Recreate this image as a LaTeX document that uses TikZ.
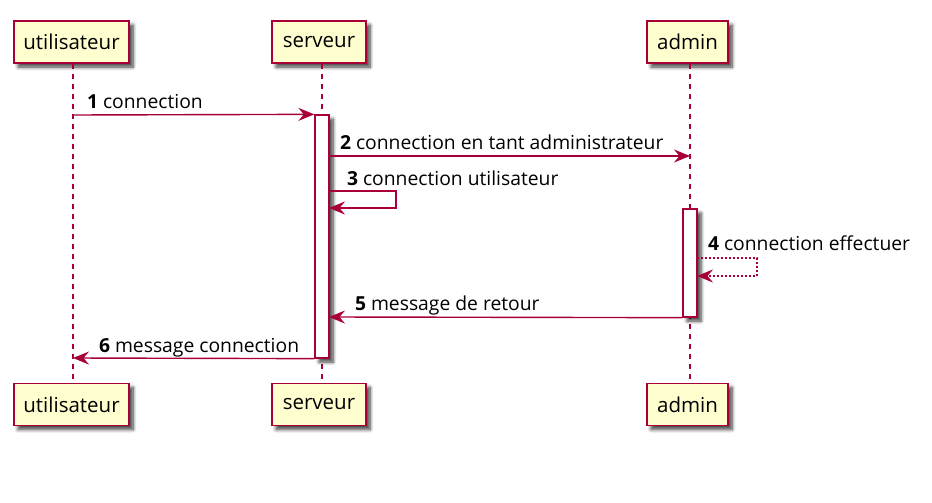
\documentclass[tikz,border=0pt]{standalone}
\usepackage{fontspec}
\setmainfont{Open Sans}
\usetikzlibrary{arrows.meta,shadows,shadows.blur}
\definecolor{pborder}{HTML}{A80036}
\definecolor{pfill}{HTML}{FEFECE}
\tikzset{
  x=1pt,y=-1pt,
  shadowed/.style={blur shadow={shadow xshift=4pt,shadow yshift=-4pt,shadow opacity=75,shadow blur steps=8,shadow blur radius=3.5pt}},
  part/.style={draw=pborder,fill=pfill,line width=1.5pt,minimum height=42pt,inner sep=0pt,font=\fontsize{20.5}{22}\selectfont,shadowed},
  actbox/.style={draw=pborder,fill=white,line width=1.3pt,minimum width=14pt,inner sep=0pt,shadowed},
  life/.style={draw=pborder,line width=1.2pt,dash pattern=on 5pt off 5pt},
  msg/.style={draw=pborder,line width=1.4pt,-{Stealth[length=16pt,width=13pt,inset=5.5pt]}},
  dmsg/.style={msg,dash pattern=on 2pt off 2pt},
  lbl/.style={anchor=base west,inner sep=0pt,font=\fontsize{19.3}{21}\selectfont},
}
\newcommand{\num}[1]{\textbf{#1}\hspace{0.25em}}
\begin{document}
\begin{tikzpicture}
\useasboundingbox (0,0) rectangle (932,503);
% participants
\node[part,minimum width=115pt] (u1) at (71.5,42) {utilisateur};
\node[part,minimum width=94pt] (s1) at (319,42) {serveur};
\node[part,minimum width=81pt] (a1) at (687.5,42) {admin};
\node[part,minimum width=115pt] (u2) at (71.5,404.5) {utilisateur};
\node[part,minimum width=94pt] (s2) at (319,404.5) {serveur};
\node[part,minimum width=81pt] (a2) at (687.5,404.5) {admin};
% lifelines
\coordinate (ut) at (73,64); \coordinate (ub) at (73,381);
\coordinate (st) at (322,64); \coordinate (sb) at (322,381);
\coordinate (at) at (690,64); \coordinate (ab) at (690,381);
\draw[life] (ut) -- (ub);
\draw[life] (st) -- (sb);
\draw[life] (at) -- (ab);
% activations
\node[actbox,minimum height=243pt] (actS) at (322,236.5) {};
\node[actbox,minimum height=108pt] (actA) at (690,263) {};
% message 1
\coordinate (m1a) at (73,115);
\draw[msg] (m1a) -- (actS.north west);
\node[lbl] (l1) at (87,108) {\num{1}connection};
% message 2
\coordinate (m2a) at (329,156); \coordinate (m2b) at (690,156);
\draw[msg] (m2a) -- (m2b);
\node[lbl] (l2) at (340,149) {\num{2}connection en tant administrateur};
% message 3
\coordinate (m3a) at (329,191); \coordinate (m3b) at (396,191);
\coordinate (m3c) at (396,208); \coordinate (m3d) at (329,208);
\draw[msg] (m3a) -- (m3b) -- (m3c) -- (m3d);
\node[lbl] (l3) at (347,185) {\num{3}connection utilisateur};
% message 4
\coordinate (m4a) at (697,258); \coordinate (m4b) at (757,258);
\coordinate (m4c) at (757,276); \coordinate (m4d) at (697,276);
\draw[dmsg] (m4a) -- (m4b) -- (m4c) -- (m4d);
\node[lbl] (l4) at (708,250) {\num{4}connection effectuer};
% message 5
\coordinate (m5b) at (329,317);
\draw[msg] (actA.south west) -- (m5b);
\node[lbl] (l5) at (355,310) {\num{5}message de retour};
% message 6
\coordinate (m6b) at (73,358);
\draw[msg] (actS.south west) -- (m6b);
\node[lbl] (l6) at (99,352) {\num{6}message connection};
\end{tikzpicture}
\end{document}
